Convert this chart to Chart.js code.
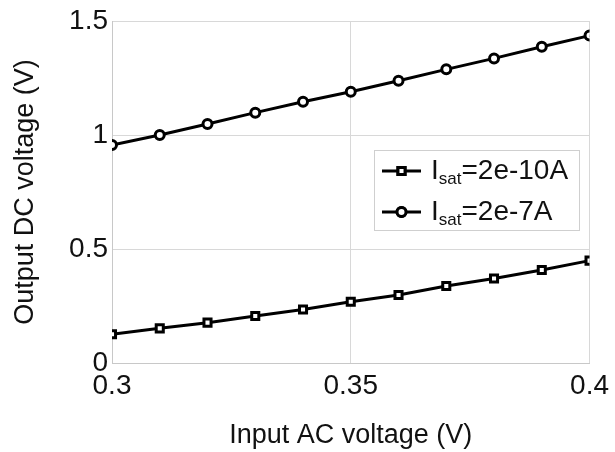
<!DOCTYPE html>
<html>
<head>
<meta charset="utf-8">
<script src="https://cdn.jsdelivr.net/npm/chart.js@4"></script>
<style>
  html, body { margin: 0; padding: 0; background: #fff; }
  #wrap { width: 615px; height: 452px; }
</style>
</head>
<body>
<div id="wrap"><canvas id="chartJSContainer" width="615" height="452"></canvas></div>
<script>
// input AC voltage (V)
var inputVoltage = [0.30, 0.31, 0.32, 0.33, 0.34, 0.35, 0.36, 0.37, 0.38, 0.39, 0.40];
// output DC voltage (V)
var outIsat10 = [0.126, 0.152, 0.177, 0.206, 0.235, 0.269, 0.298, 0.338, 0.371, 0.408, 0.449];
var outIsat7  = [0.956, 1.000, 1.048, 1.098, 1.146, 1.190, 1.238, 1.288, 1.336, 1.387, 1.436];
// legend text: [main, subscript, rest]
var seriesNames = [['I', 'sat', '=2e-10A'], ['I', 'sat', '=2e-7A']];
var xTicks = [0.3, 0.35, 0.4];
var yTicks = [0, 0.5, 1, 1.5];

var font = '"Liberation Sans", Arial, sans-serif';

function pts(ys) {
  return inputVoltage.map(function (x, i) { return { x: x, y: ys[i] }; });
}

// legend with subscript text, drawn by hand
var subLegend = {
  id: 'subLegend',
  afterDraw: function (chart) {
    var ctx = chart.ctx;
    var bx = 374, by = 150, bw = 205, bh = 80;
    ctx.save();
    ctx.fillStyle = '#fff';
    ctx.fillRect(bx, by, bw, bh);
    ctx.strokeStyle = '#cfcfcf';
    ctx.lineWidth = 1;
    ctx.strokeRect(bx + 0.5, by + 0.5, bw, bh);
    chart.data.datasets.forEach(function (ds, i) {
      var cy = by + 21 + i * 41;
      ctx.strokeStyle = '#000';
      ctx.lineWidth = 3;
      ctx.beginPath();
      ctx.moveTo(382, cy);
      ctx.lineTo(421, cy);
      ctx.stroke();
      Chart.helpers.drawPoint(ctx, {
        pointStyle: ds.pointStyle, rotation: 0, radius: ds.pointRadius, borderWidth: 3
      }, 401.5, cy);
      ctx.fillStyle = '#fff';
      ctx.fill();
      ctx.stroke();
      var name = seriesNames[i];
      ctx.fillStyle = '#111';
      ctx.textBaseline = 'middle';
      ctx.textAlign = 'left';
      ctx.font = '28px ' + font;
      var x = 431;
      ctx.fillText(name[0], x, cy);
      x += ctx.measureText(name[0]).width;
      ctx.font = '17px ' + font;
      ctx.fillText(name[1], x, cy + 8);
      x += ctx.measureText(name[1]).width;
      ctx.font = '28px ' + font;
      ctx.fillText(name[2], x, cy);
    });
    ctx.restore();
  }
};

var options = {
  type: 'line',
  data: {
    datasets: [
      {
        label: seriesNames[0].join(''),
        data: pts(outIsat10),
        borderColor: '#000',
        backgroundColor: '#fff',
        borderWidth: 3,
        pointStyle: 'rect',
        pointRadius: 5,
        pointBorderWidth: 3,
        pointBackgroundColor: '#fff',
        pointBorderColor: '#000'
      },
      {
        label: seriesNames[1].join(''),
        data: pts(outIsat7),
        borderColor: '#000',
        backgroundColor: '#fff',
        borderWidth: 3,
        pointStyle: 'circle',
        pointRadius: 4.5,
        pointBorderWidth: 3,
        pointBackgroundColor: '#fff',
        pointBorderColor: '#000'
      }
    ]
  },
  options: {
    responsive: false,
    animation: false,
    layout: { padding: { top: 21, right: 23, left: 0, bottom: 0 } },
    plugins: {
      legend: { display: false },
      tooltip: { enabled: false }
    },
    scales: {
      x: {
        type: 'linear',
        min: 0.3,
        max: 0.4,
        afterBuildTicks: function (s) { s.ticks = xTicks.map(function (v) { return { value: v }; }); },
        afterFit: function (s) { s.height = 89; },
        grid: { color: '#d8d8d8', drawTicks: false, lineWidth: 1 },
        border: { color: '#c8c8c8' },
        ticks: {
          color: '#111',
          font: { family: font, size: 28 },
          padding: 6,
          maxRotation: 0,
          callback: function (v) { return String(+v.toFixed(2)); }
        },
        title: {
          display: true,
          text: 'Input AC voltage (V)',
          color: '#111',
          font: { family: font, size: 27 },
          padding: { top: 10, bottom: 0 }
        }
      },
      y: {
        type: 'linear',
        min: 0,
        max: 1.5,
        afterBuildTicks: function (s) { s.ticks = yTicks.map(function (v) { return { value: v }; }); },
        afterFit: function (s) { s.width = 112; },
        grid: { color: '#d8d8d8', drawTicks: false, lineWidth: 1 },
        border: { color: '#c8c8c8' },
        ticks: {
          color: '#111',
          font: { family: font, size: 28 },
          padding: 4,
          callback: function (v) { return String(+v.toFixed(1)); }
        },
        title: {
          display: true,
          text: 'Output DC voltage (V)',
          color: '#111',
          font: { family: font, size: 27 },
          padding: { top: 9, bottom: 0 }
        }
      }
    }
  },
  plugins: [subLegend]
};

var ctx = document.getElementById('chartJSContainer');
var myChart = new Chart(ctx, options);
</script>
</body>
</html>
